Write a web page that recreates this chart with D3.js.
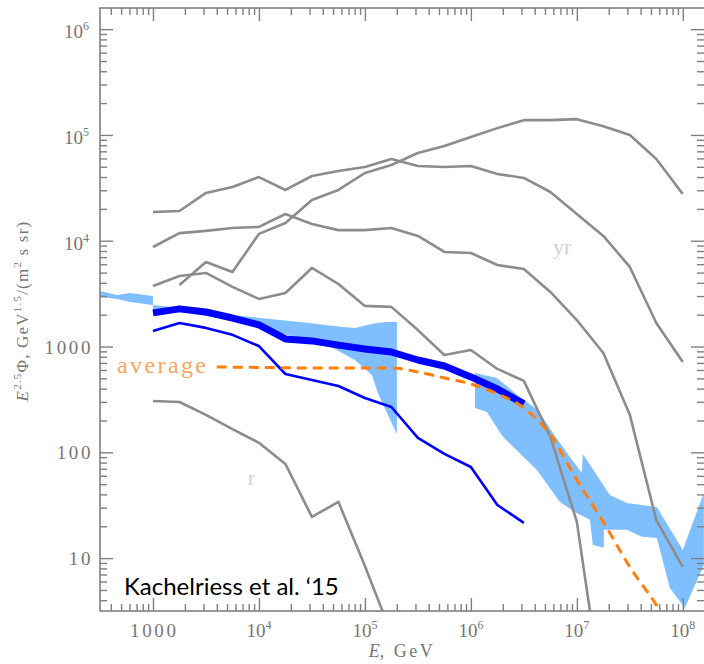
<!DOCTYPE html>
<html><head><meta charset="utf-8">
<script src="https://cdn.jsdelivr.net/npm/d3@7"></script>
<style>body{margin:0;background:#fff} svg{display:block}</style>
</head><body>
<svg id="chart" width="704" height="664"></svg>
<script>
// ---- data (energies in GeV, flux E^2.5 Phi) ----
const energyGrid = [1e3, 1.778e3, 3.162e3, 5.623e3, 1e4, 1.778e4, 3.162e4, 5.623e4, 1e5, 1.778e5, 3.162e5, 5.623e5, 1e6, 1.778e6, 3.162e6, 5.623e6, 1e7, 1.778e7, 3.162e7, 5.623e7, 1e8];
const grayA = [18700, 19100, 28300, 32200, 40000, 30200, 40900, 45600, 49800, 59300, 50900, 49800, 50900, 42800, 39200, 28900, 17900, 11100, 5650, 1670, 715];
const grayB = [null, 3820, 6300, 5070, 11600, 14700, 24300, 30200, 43700, 52000, 67500, 78600, 95700, 116000, 138000, 138000, 141000, 121000, 99900, 59300, 27700];
const grayC = [8730, 11800, 12400, 13200, 13500, 17900, 14400, 12600, 12600, 13200, 11100, 7830, 7660, 5900, 5410, 3280, 1780, 869, 226, 22.9, 8.25];
const grayD = [3740, 4650, 4960, 3660, 2820, 3210, 5530, 3900, 2420, 2370, 1430, 832, 928, 614, 473, 140, 22, 0.44];
const grayE = [306, 299, 226, 166, 123, 77.6, 24.5, 34.0, 8.43, 1.92];
const blueThin = [1400, 1670, 1500, 1290, 1010, 550, 483, 424, 326, 268, 137, 96.5, 72.7, 31.8, 21.5];
const blueThick = [2080, 2270, 2120, 1860, 1600, 1180, 1130, 1030, 948, 888, 746, 655, 516, 397, 287];

const averageE = [4000, 1e4, 3.162e4, 1e5, 1.778e5, 3.162e5, 5.623e5, 1e6, 1.778e6, 3.162e6, 5.623e6, 1e7, 1.778e7, 3.162e7, 5.623e7, 1e8];
const averageFlux = [641, 634, 627, 627, 627, 575, 505, 443, 356, 263, 146, 54.8, 22.0, 8.25, 3.61, 1.35];

const band1E  = [316, 458, 607, 1000, 1000, 1798, 5685, 10220, 15780, 30290, 49910, 80480, 116500, 132600, 161300, 200400];
const band1Hi = [3351, 3071, 3208, 3006, 2471, 2314, 1988, 1862, 1782, 1670, 1564, 1498, 1634, 1670, 1707, 1707];
const band1Lo = [2940, 2815, 2638, 2471, 2122, 2122, 1782, 1531, 1343, 1153, 969, 746, 538, 364, 236, 149];

const band2UpperE = [1.091e6, 1.759e6, 2.900e6, 4.287e6, 5.937e6, 8.590e6, 1.115e7, 1.139e7, 2.048e7, 2.963e7, 5.685e7, 1e8, 1.578e8];
const band2Upper  = [562, 504, 334, 251, 152, 90.4, 63.8, 96.5, 39.5, 33.2, 30.4, 11.9, 41.3];
const band2LowerE = [1.091e6, 1.416e6, 2.004e6, 4.194e6, 6.910e6, 9.575e6, 1.326e7, 1.416e7, 1.798e7, 1.798e7, 2.963e7, 4.104e7, 5.685e7, 7.541e7, 1.044e8, 1.578e8];
const band2Lower  = [263, 241, 140, 68.1, 34.0, 27.3, 23.0, 13.3, 12.5, 18.5, 18.5, 15.9, 15.5, 5.22, 3.38, 8.61];

const xTickValues = [1e3, 1e4, 1e5, 1e6, 1e7, 1e8];
const xTickLabels = ["1000", "10^4", "10^5", "10^6", "10^7", "10^8"];
const yTickValues = [10, 100, 1000, 1e4, 1e5, 1e6];
const yTickLabels = ["10", "100", "1000", "10^4", "10^5", "10^6"];

// ---- layout ----
const svg = d3.select("#chart");
const L = 100, R = 704, T = 8, B = 611;
const x = d3.scaleLog().domain([Math.pow(10, 2.5), Math.pow(10, 8.2)]).range([L, R]);
const y = d3.scaleLog().domain([Math.pow(10, 0.5), Math.pow(10, 6.2)]).range([B, T]);

svg.append("defs").append("clipPath").attr("id", "clip")
  .append("rect").attr("x", L).attr("y", T).attr("width", R - L).attr("height", B - T);
const plot = svg.append("g").attr("clip-path", "url(#clip)");

const bandColor = "#80bfff";
plot.append("path")
  .datum(band1E.map((e, i) => [e, band1Lo[i], band1Hi[i]]))
  .attr("fill", bandColor)
  .attr("d", d3.area().x(d => x(d[0])).y0(d => y(d[1])).y1(d => y(d[2])));
const band2Pts = band2UpperE.map((e, i) => [e, band2Upper[i]])
  .concat(band2LowerE.map((e, i) => [e, band2Lower[i]]).reverse());
plot.append("path")
  .datum(band2Pts)
  .attr("fill", bandColor)
  .attr("d", d3.line().x(d => x(d[0])).y(d => y(d[1])).curve(d3.curveLinearClosed));

function drawSeries(energies, values, color, width, dash, curve) {
  const pts = values.map((v, i) => [energies[i], v]);
  const p = plot.append("path").datum(pts)
    .attr("fill", "none").attr("stroke", color).attr("stroke-width", width)
    .attr("stroke-linejoin", "round")
    .attr("d", d3.line().defined(d => d[1] != null)
      .x(d => x(d[0])).y(d => y(d[1])).curve(curve || d3.curveLinear));
  if (dash) p.attr("stroke-dasharray", dash);
  return p;
}
const gray = "#8c8c8c";
drawSeries(energyGrid, grayA, gray, 2.6);
drawSeries(energyGrid, grayB, gray, 2.6);
drawSeries(energyGrid, grayC, gray, 2.6);
drawSeries(energyGrid, grayD, gray, 2.6);
drawSeries(energyGrid, grayE, gray, 2.6);
drawSeries(energyGrid, blueThin, "#0000ff", 2.6);
drawSeries(energyGrid, blueThick, "#0000ff", 7);
drawSeries(averageE, averageFlux, "#ff7f0e", 3, "10,6", d3.curveMonotoneX);

// faint leftover labels
svg.append("text").attr("x", 248).attr("y", 485).attr("font-family", "Liberation Serif")
  .attr("font-size", 21).attr("fill", "#d0d0d0").text("r");
svg.append("text").attr("x", 553).attr("y", 254).attr("font-family", "Liberation Serif")
  .attr("font-size", 22).attr("fill", "#d0d0d0").text("yr");

// ---- axes ----
const axisColor = "#808080";
function minorTicks(domain) {
  const out = [];
  const lo = Math.floor(Math.log10(domain[0])), hi = Math.ceil(Math.log10(domain[1]));
  for (let d = lo; d <= hi; d++) for (let m = 2; m <= 9; m++) {
    const v = m * Math.pow(10, d);
    if (v >= domain[0] && v <= domain[1]) out.push(v);
  }
  return out;
}
const xMinor = minorTicks(x.domain()), yMinor = minorTicks(y.domain());
function styleAxis(g) {
  g.select(".domain").remove();
  g.selectAll("line").attr("stroke", axisColor).attr("stroke-width", 1.4);
  g.selectAll("text").remove();
}
[[d3.axisTop, B], [d3.axisBottom, T]].forEach(([ax, pos]) => {
  svg.append("g").attr("transform", `translate(0,${pos})`)
    .call(ax(x).tickValues(xTickValues).tickSize(13)).call(styleAxis);
  svg.append("g").attr("transform", `translate(0,${pos})`)
    .call(ax(x).tickValues(xMinor).tickSize(7)).call(styleAxis);
});
[[d3.axisRight, L], [d3.axisLeft, R]].forEach(([ax, pos]) => {
  svg.append("g").attr("transform", `translate(${pos},0)`)
    .call(ax(y).tickValues(yTickValues).tickSize(13)).call(styleAxis);
  svg.append("g").attr("transform", `translate(${pos},0)`)
    .call(ax(y).tickValues(yMinor).tickSize(7)).call(styleAxis);
});
svg.append("rect").attr("x", L).attr("y", T).attr("width", R - L + 1).attr("height", B - T)
  .attr("fill", "none").attr("stroke", axisColor).attr("stroke-width", 1.6);

const labelColor = "#767676";
const serif = "Liberation Serif";
function tickLabel(sel, lab) {
  sel.attr("font-family", serif);
  if (lab.includes("^")) {
    const [b, e] = lab.split("^");
    sel.attr("font-size", 19);
    sel.append("tspan").text(b);
    sel.append("tspan").attr("font-size", 12).attr("dy", -8).text(e);
  } else {
    sel.attr("font-size", 19).attr("letter-spacing", 2.6).text(lab);
  }
}
xTickValues.forEach((v, i) => {
  const lab = xTickLabels[i];
  const t = svg.append("text").attr("x", x(v) + (lab.includes("^") ? 0 : 1.3)).attr("y", 637)
    .attr("text-anchor", "middle").attr("fill", labelColor);
  tickLabel(t, lab);
});
yTickValues.forEach((v, i) => {
  const lab = yTickLabels[i];
  const t = svg.append("text").attr("x", lab.includes("^") ? 89 : 93)
    .attr("y", y(v) + (lab.includes("^") ? 9 : 7))
    .attr("text-anchor", "end").attr("fill", labelColor);
  tickLabel(t, lab);
});

// axis titles
const xt = svg.append("text").attr("x", 402).attr("y", 657).attr("text-anchor", "middle")
  .attr("fill", labelColor).attr("font-size", 18).attr("font-family", serif);
xt.append("tspan").attr("font-style", "italic").text("E");
xt.append("tspan").attr("letter-spacing", 2.5).text(", GeV");

const yt = svg.append("text").attr("transform", "translate(28,311) rotate(-90)")
  .attr("text-anchor", "middle").attr("fill", labelColor).attr("font-size", 17)
  .attr("font-family", serif).attr("letter-spacing", 1.2);
yt.append("tspan").attr("font-style", "italic").text("E");
yt.append("tspan").attr("font-size", 11).attr("dy", -7).text("2.5");
yt.append("tspan").attr("dy", 7).text("Φ");
yt.append("tspan").text(", GeV");
yt.append("tspan").attr("font-size", 11).attr("dy", -7).text("1.5");
yt.append("tspan").attr("dy", 7).text("/(m");
yt.append("tspan").attr("font-size", 11).attr("dy", -7).text("2");
yt.append("tspan").attr("dy", 7).text(" s sr)");

// labels
svg.append("text").attr("x", 117).attr("y", 373).attr("font-family", serif)
  .attr("font-size", 24).attr("letter-spacing", 2.4).attr("fill", "#f7a660").text("average");
svg.append("text").attr("x", 124).attr("y", 595).attr("font-family", "Lato")
  .attr("font-size", 24).attr("fill", "#000").text("Kachelriess et al. \u201815");
</script>
</body></html>
